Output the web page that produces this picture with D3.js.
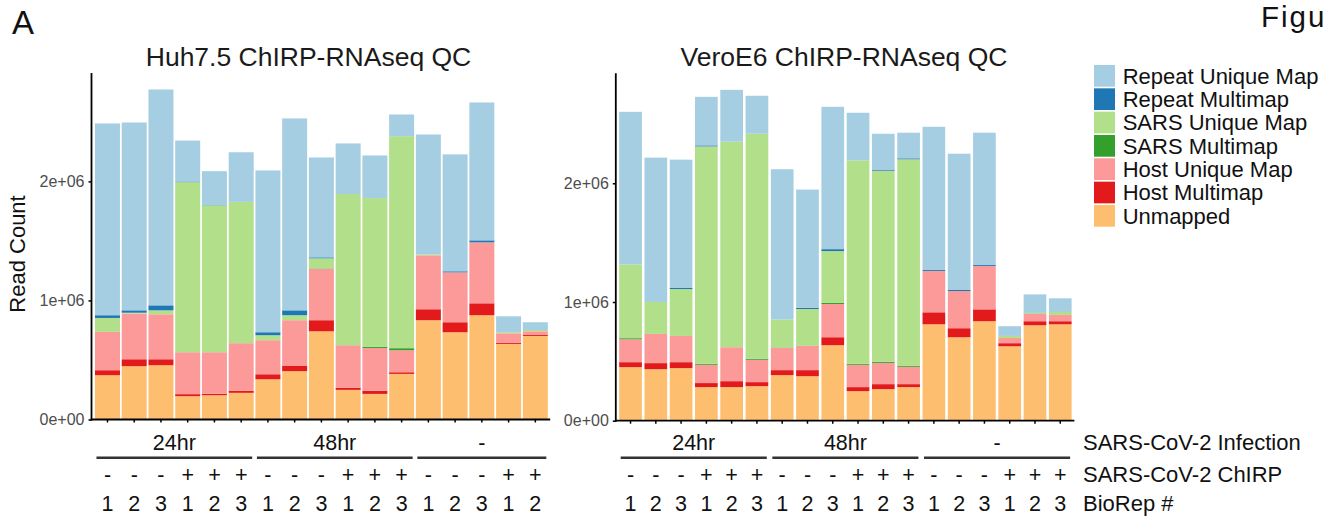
<!DOCTYPE html>
<html>
<head>
<meta charset="utf-8">
<script src="https://cdn.jsdelivr.net/npm/d3@7"></script>
<style>
  html, body { margin: 0; padding: 0; background: #fff; }
  svg { display: block; }
  text { font-family: "Liberation Sans", Arial, Helvetica, sans-serif; }
</style>
</head>
<body>
<script>
// ---------------- DATA (read counts, in reads) ----------------
const seriesKeys = ["Unmapped", "Host Multimap", "Host Unique Map", "SARS Multimap",
                    "SARS Unique Map", "Repeat Multimap", "Repeat Unique Map"];
const legendOrder = ["Repeat Unique Map", "Repeat Multimap", "SARS Unique Map", "SARS Multimap",
                     "Host Unique Map", "Host Multimap", "Unmapped"];
const seriesColors = ["#FDBF6F", "#E31A1C", "#FB9A99", "#33A02C", "#B2DF8A", "#1F78B4", "#A6CEE3"];

const yTickValues = [0, 1e6, 2e6];
const yTickLabels = ["0e+00", "1e+06", "2e+06"];

// Huh7.5
const huhInfection = ["24hr","24hr","24hr","24hr","24hr","24hr","48hr","48hr","48hr","48hr","48hr","48hr","-","-","-","-","-"];
const huhChirp     = ["-","-","-","+","+","+","-","-","-","+","+","+","-","-","-","+","+"];
const huhRep       = ["1","2","3","1","2","3","1","2","3","1","2","3","1","2","3","1","2"];
const huhUnmapped     = [372000, 448000, 456000, 196000, 204000, 224000, 338000, 406000, 741000, 249000, 215000, 383000, 834000, 733000, 876000, 635000, 702000];
const huhHostMulti    = [42000, 58000, 50000, 17000, 11000, 17000, 42000, 47000, 93000, 17000, 26000, 14000, 92000, 84000, 100000, 8000, 8000];
const huhHostUnique   = [322000, 384000, 378000, 352000, 350000, 400000, 286000, 381000, 430000, 358000, 360000, 185000, 453000, 419000, 512000, 81000, 31000];
const huhSarsMulti    = [0, 0, 0, 0, 0, 0, 0, 0, 4000, 0, 9000, 17000, 0, 0, 0, 0, 0];
const huhSarsUnique   = [117000, 7000, 33000, 1429000, 1234000, 1186000, 42000, 42000, 86000, 1270000, 1250000, 1781000, 8000, 0, 0, 9000, 11000];
const huhRepeatMulti  = [23000, 20000, 42000, 5000, 2000, 2000, 25000, 41000, 8000, 0, 0, 0, 0, 9000, 17000, 0, 0];
const huhRepeatUnique = [1611000, 1578000, 1813000, 344000, 285000, 416000, 1359000, 1612000, 839000, 425000, 358000, 182000, 1007000, 982000, 1158000, 134000, 65000];

// VeroE6
const veroInfection = ["24hr","24hr","24hr","24hr","24hr","24hr","48hr","48hr","48hr","48hr","48hr","48hr","-","-","-","-","-","-"];
const veroChirp     = ["-","-","-","+","+","+","-","-","-","+","+","+","-","-","-","+","+","+"];
const veroRep       = ["1","2","3","1","2","3","1","2","3","1","2","3","1","2","3","1","2","3"];
const veroUnmapped     = [451000, 434000, 443000, 283000, 283000, 291000, 384000, 375000, 636000, 249000, 266000, 283000, 812000, 703000, 838000, 627000, 804000, 812000];
const veroHostMulti    = [42000, 51000, 50000, 34000, 50000, 34000, 42000, 51000, 67000, 34000, 42000, 25000, 101000, 76000, 100000, 26000, 34000, 26000];
const veroHostUnique   = [193000, 246000, 221000, 154000, 286000, 188000, 187000, 204000, 280000, 188000, 179000, 146000, 348000, 313000, 365000, 44000, 61000, 53000];
const veroSarsMulti    = [9000, 0, 0, 8000, 0, 8000, 3000, 0, 9000, 8000, 9000, 8000, 0, 0, 0, 0, 0, 0];
const veroSarsUnique   = [622000, 269000, 395000, 1832000, 1731000, 1896000, 236000, 311000, 437000, 1714000, 1610000, 1740000, 0, 0, 0, 17000, 9000, 25000];
const veroRepeatMulti  = [0, 0, 9000, 8000, 0, 0, 0, 9000, 16000, 0, 9000, 8000, 8000, 9000, 8000, 0, 0, 0];
const veroRepeatUnique = [1285000, 1216000, 1081000, 409000, 437000, 320000, 1266000, 997000, 1199000, 401000, 302000, 216000, 1207000, 1148000, 1115000, 82000, 156000, 115000];

const rowLabels = ["SARS-CoV-2 Infection", "SARS-CoV-2 ChIRP", "BioRep #"];

// ---------------- DRAWING ----------------
const W = 1332, H = 520;
const svg = d3.select("body").append("svg").attr("width", W).attr("height", H);
const color = d3.scaleOrdinal().domain(seriesKeys).range(seriesColors);

function buildRows(n, arrays) {
  return d3.range(n).map(i => {
    const o = { idx: i };
    seriesKeys.forEach((k, j) => { o[k] = arrays[j][i]; });
    return o;
  });
}

function drawChart(cfg) {
  const n = cfg.infection.length;
  const rows = buildRows(n, cfg.series);
  const stack = d3.stack().keys(seriesKeys)(rows);
  const maxTotal = d3.max(rows, r => d3.sum(seriesKeys, k => r[k]));

  const x = d3.scaleBand().domain(d3.range(n)).range(cfg.xRange)
    .paddingInner(cfg.pad).paddingOuter(cfg.pad / 2);
  const y = d3.scaleLinear().domain([0, maxTotal * 1.05]).range([cfg.yZero, cfg.yTop]);

  const g = svg.append("g");

  // bars
  g.selectAll("g.layer").data(stack).join("g")
    .attr("class", "layer")
    .attr("fill", d => color(d.key))
    .selectAll("rect").data(d => d).join("rect")
    .attr("x", (d, i) => x(i))
    .attr("width", x.bandwidth())
    .attr("y", d => y(d[1]))
    .attr("height", d => Math.max(0, y(d[0]) - y(d[1])));

  // y axis
  const yAxis = d3.axisLeft(y).tickValues(yTickValues)
    .tickFormat((d, i) => yTickLabels[i]).tickSize(3).tickPadding(4).tickSizeOuter(0);
  const ya = g.append("g").attr("transform", `translate(${cfg.axisX},0)`).call(yAxis);
  ya.select(".domain").remove();
  ya.selectAll(".tick line").attr("stroke", "#000").attr("stroke-width", 1.5);
  ya.selectAll(".tick text").attr("fill", "#4D4D4D").style("font-size", "16px")
    .style("font-family", "'Liberation Sans', Arial, sans-serif");
  g.append("line").attr("x1", cfg.axisX).attr("x2", cfg.axisX)
    .attr("y1", cfg.yTop).attr("y2", cfg.yZero + 1)
    .attr("stroke", "#000").attr("stroke-width", 1.8);

  // x axis
  const xAxis = d3.axisBottom(x).tickFormat("").tickSize(3).tickSizeOuter(0);
  const xa = g.append("g").attr("transform", `translate(0,${cfg.yZero})`).call(xAxis);
  xa.select(".domain").remove();
  xa.selectAll(".tick line").attr("stroke", "#000").attr("stroke-width", 1.5);
  g.append("line").attr("x1", cfg.axisX - 0.9).attr("x2", cfg.xRange[1] + 1.5)
    .attr("y1", cfg.yZero).attr("y2", cfg.yZero)
    .attr("stroke", "#000").attr("stroke-width", 1.8);

  // title
  g.append("text").attr("x", cfg.titleX).attr("y", 66)
    .attr("text-anchor", "middle").style("font-size", "26.5px").attr("fill", "#1a1a1a")
    .text(cfg.title);

  // annotation: group labels + lines
  const groups = [];
  cfg.infection.forEach((v, i) => {
    const last = groups[groups.length - 1];
    if (last && last.label === v) last.end = i; else groups.push({ label: v, start: i, end: i });
  });
  const ann = g.append("g");
  ann.selectAll("text.grp").data(groups).join("text").attr("class", "grp")
    .attr("x", d => (x(d.start) + x(d.end) + x.bandwidth()) / 2)
    .attr("y", 450).attr("text-anchor", "middle").style("font-size", "21.5px").attr("fill", "#111")
    .text(d => d.label);
  ann.selectAll("line.grp").data(groups).join("line").attr("class", "grp")
    .attr("x1", d => x(d.start) + 1.5)
    .attr("x2", d => x(d.end) + x.bandwidth() - 1.5)
    .attr("y1", 457.7).attr("y2", 457.7)
    .attr("stroke", "#333").attr("stroke-width", 2.4);
  ann.selectAll("text.chirp").data(cfg.chirp).join("text").attr("class", "chirp")
    .attr("x", (d, i) => x(i) + x.bandwidth() / 2).attr("y", 482)
    .attr("text-anchor", "middle").style("font-size", "21.5px").attr("fill", "#111")
    .text(d => d);
  ann.selectAll("text.rep").data(cfg.rep).join("text").attr("class", "rep")
    .attr("x", (d, i) => x(i) + x.bandwidth() / 2).attr("y", 510.5)
    .attr("text-anchor", "middle").style("font-size", "21.5px").attr("fill", "#111")
    .text(d => d);
}

drawChart({
  title: "Huh7.5 ChIRP-RNAseq QC", titleX: 308.5,
  infection: huhInfection, chirp: huhChirp, rep: huhRep,
  series: [huhUnmapped, huhHostMulti, huhHostUnique, huhSarsMulti, huhSarsUnique, huhRepeatMulti, huhRepeatUnique],
  xRange: [94.1, 548.7], pad: 0.065, axisX: 91.5, yZero: 419.5, yTop: 73
});
drawChart({
  title: "VeroE6 ChIRP-RNAseq QC", titleX: 844,
  infection: veroInfection, chirp: veroChirp, rep: veroRep,
  series: [veroUnmapped, veroHostMulti, veroHostUnique, veroSarsMulti, veroSarsUnique, veroRepeatMulti, veroRepeatUnique],
  xRange: [617.9, 1072.9], pad: 0.102, axisX: 615.8, yZero: 420.7, yTop: 73.3
});

// y axis title
svg.append("text").attr("transform", "translate(25,254) rotate(-90)")
  .attr("text-anchor", "middle").style("font-size", "22px").attr("fill", "#111").text("Read Count");

// panel letter and the (cropped) figure heading as visible in the reference
svg.append("text").attr("x", 12).attr("y", 33.5).style("font-size", "33px").attr("fill", "#111").text("A");
svg.append("text").attr("x", 1261).attr("y", 27).style("font-size", "29.5px")
  .style("letter-spacing", "2px").attr("fill", "#111").text("Figu");

// row labels
const rowY = [450, 482, 510.5];
svg.selectAll("text.rowlab").data(rowLabels).join("text").attr("class", "rowlab")
  .attr("x", 1083).attr("y", (d, i) => rowY[i]).style("font-size", "22px").attr("fill", "#111")
  .text(d => d);

// legend
const leg = svg.append("g").attr("transform", "translate(1094,65)");
const li = leg.selectAll("g").data(legendOrder).join("g")
  .attr("transform", (d, i) => `translate(0,${i * 23.33})`);
li.append("rect").attr("width", 21).attr("height", 21.7).attr("fill", d => color(d));
li.append("text").attr("x", 28.7).attr("y", 10.85).attr("dy", "0.35em")
  .style("font-size", "22px").attr("fill", "#111").text(d => d);
</script>
</body>
</html>
